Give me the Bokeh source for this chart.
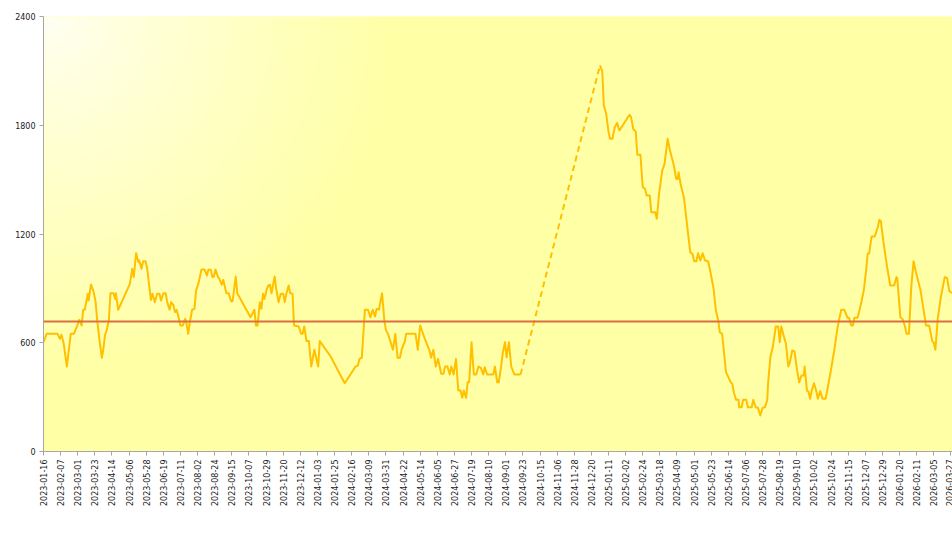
import numpy as np
import pandas as pd
from math import pi
from bokeh.plotting import figure
from bokeh.models import FixedTicker, DatetimeTickFormatter, Span, AllLabels, Range1d
from bokeh.embed import file_html
from bokeh.resources import INLINE

# ---------------- data ----------------
dates = [
    "2023-01-16", "2023-01-20", "2023-02-03", "2023-02-06", "2023-02-08", "2023-02-11", "2023-02-15",
    "2023-02-20", "2023-02-24", "2023-02-28", "2023-03-03", "2023-03-06", "2023-03-08", "2023-03-10",
    "2023-03-14", "2023-03-15", "2023-03-18", "2023-03-21", "2023-03-24", "2023-03-26", "2023-03-29",
    "2023-04-01", "2023-04-03", "2023-04-05", "2023-04-07", "2023-04-10", "2023-04-12", "2023-04-16",
    "2023-04-18", "2023-04-19", "2023-04-22", "2023-05-07", "2023-05-10", "2023-05-12", "2023-05-15",
    "2023-05-18", "2023-05-19", "2023-05-22", "2023-05-24", "2023-05-27", "2023-05-29", "2023-06-03",
    "2023-06-05", "2023-06-08", "2023-06-11", "2023-06-14", "2023-06-16", "2023-06-19", "2023-06-22",
    "2023-06-24", "2023-06-27", "2023-06-29", "2023-07-02", "2023-07-04", "2023-07-06", "2023-07-08",
    "2023-07-11", "2023-07-14", "2023-07-17", "2023-07-18", "2023-07-21", "2023-07-23", "2023-07-26",
    "2023-07-29", "2023-07-31", "2023-08-03", "2023-08-07", "2023-08-11", "2023-08-14", "2023-08-16",
    "2023-08-19", "2023-08-21", "2023-08-23", "2023-08-25", "2023-08-28", "2023-08-30", "2023-09-02",
    "2023-09-04", "2023-09-08", "2023-09-11", "2023-09-14", "2023-09-16", "2023-09-20", "2023-09-22",
    "2023-10-09", "2023-10-14", "2023-10-16", "2023-10-18", "2023-10-21", "2023-10-23", "2023-10-25",
    "2023-10-27", "2023-10-30", "2023-11-01", "2023-11-03", "2023-11-05", "2023-11-09", "2023-11-11",
    "2023-11-14", "2023-11-17", "2023-11-20", "2023-11-22", "2023-11-24", "2023-11-27", "2023-11-29",
    "2023-12-02", "2023-12-04", "2023-12-10", "2023-12-13", "2023-12-15", "2023-12-17", "2023-12-20",
    "2023-12-23", "2023-12-26", "2023-12-30", "2024-01-04", "2024-01-06", "2024-01-20", "2024-02-07",
    "2024-02-15", "2024-02-21", "2024-02-24", "2024-02-26", "2024-02-29", "2024-03-04", "2024-03-08",
    "2024-03-11", "2024-03-14", "2024-03-17", "2024-03-19", "2024-03-22", "2024-03-26", "2024-03-29",
    "2024-03-31", "2024-04-03", "2024-04-06", "2024-04-09", "2024-04-12", "2024-04-15", "2024-04-18",
    "2024-04-20", "2024-04-23", "2024-04-24", "2024-04-26", "2024-05-08", "2024-05-11", "2024-05-14",
    "2024-05-20", "2024-05-26", "2024-05-28", "2024-05-31", "2024-06-03", "2024-06-06", "2024-06-10",
    "2024-06-13", "2024-06-15", "2024-06-18", "2024-06-21", "2024-06-23", "2024-06-26", "2024-06-29",
    "2024-07-02", "2024-07-05", "2024-07-07", "2024-07-09", "2024-07-12", "2024-07-14", "2024-07-16",
    "2024-07-19", "2024-07-22", "2024-07-25", "2024-07-28", "2024-07-31", "2024-08-03", "2024-08-05",
    "2024-08-08", "2024-08-16", "2024-08-18", "2024-08-21", "2024-08-23", "2024-08-26", "2024-08-28",
    "2024-08-31", "2024-09-02", "2024-09-05", "2024-09-08", "2024-09-12", "2024-09-20",
    "2024-12-31", "2025-01-03", "2025-01-05", "2025-01-08", "2025-01-11", "2025-01-13", "2025-01-16",
    "2025-01-19", "2025-01-22", "2025-01-25", "2025-02-07", "2025-02-09", "2025-02-12", "2025-02-15",
    "2025-02-17", "2025-02-21", "2025-02-24", "2025-02-27", "2025-03-01", "2025-03-05", "2025-03-07",
    "2025-03-12", "2025-03-14", "2025-03-17", "2025-03-21", "2025-03-24", "2025-03-28", "2025-03-31",
    "2025-04-05", "2025-04-08", "2025-04-10", "2025-04-11", "2025-04-14", "2025-04-17", "2025-04-18",
    "2025-04-23", "2025-04-26", "2025-04-29", "2025-05-01", "2025-05-04", "2025-05-06", "2025-05-09",
    "2025-05-12", "2025-05-15", "2025-05-19", "2025-05-22", "2025-05-26", "2025-05-29", "2025-06-01",
    "2025-06-03", "2025-06-06", "2025-06-09", "2025-06-11", "2025-06-14", "2025-06-17", "2025-06-19",
    "2025-06-21", "2025-06-24", "2025-06-27", "2025-06-28", "2025-07-01", "2025-07-03", "2025-07-07",
    "2025-07-09", "2025-07-14", "2025-07-16", "2025-07-19", "2025-07-22", "2025-07-25", "2025-07-28",
    "2025-07-31", "2025-08-03", "2025-08-04", "2025-08-07", "2025-08-10", "2025-08-14", "2025-08-17",
    "2025-08-19", "2025-08-21", "2025-08-24", "2025-08-27", "2025-08-30", "2025-09-01", "2025-09-04",
    "2025-09-07", "2025-09-10", "2025-09-13", "2025-09-16", "2025-09-19", "2025-09-20", "2025-09-23",
    "2025-09-25", "2025-09-27", "2025-09-29", "2025-10-02", "2025-10-05", "2025-10-07", "2025-10-10",
    "2025-10-13", "2025-10-17", "2025-10-23", "2025-10-28", "2025-11-01", "2025-11-06", "2025-11-10",
    "2025-11-14", "2025-11-16", "2025-11-19", "2025-11-21", "2025-11-23", "2025-11-27", "2025-11-30",
    "2025-12-05", "2025-12-08", "2025-12-10", "2025-12-12", "2025-12-15", "2025-12-19", "2025-12-23",
    "2025-12-25", "2025-12-27", "2025-12-30", "2026-01-04", "2026-01-08", "2026-01-13", "2026-01-16",
    "2026-01-17", "2026-01-21", "2026-01-24", "2026-01-27", "2026-01-29", "2026-02-01", "2026-02-04",
    "2026-02-07", "2026-02-10", "2026-02-16", "2026-02-23", "2026-02-27", "2026-03-03", "2026-03-05",
    "2026-03-07", "2026-03-10", "2026-03-14", "2026-03-19", "2026-03-22", "2026-03-25", "2026-03-29",
]
values = [
    603, 649, 649, 622, 644, 594, 469,
    649, 649, 690, 727, 695, 782, 782,
    870, 833, 921, 888, 824, 723, 612,
    517, 567, 640, 668, 723, 873, 873,
    842, 873, 782, 925, 1008, 962, 1094,
    1044, 1054, 1008, 1050, 1050, 1017, 836,
    870, 824, 870, 870, 833, 873, 873,
    824, 782, 824, 806, 769, 782, 750,
    695, 695, 732, 723, 649, 713, 782,
    787, 888, 925, 1004, 1004, 971, 1004,
    1002, 962, 965, 1004, 965, 952, 920,
    947, 873, 873, 829, 829, 965, 873,
    741, 782, 695, 695, 824, 787, 870,
    842, 898, 916, 920, 873, 965, 898,
    824, 870, 870, 824, 870, 916, 873,
    870, 695, 690, 649, 649, 690, 609,
    609, 469, 561, 469, 609, 524, 377,
    429, 469, 474, 511, 517, 782, 782,
    741, 782, 745, 787, 782, 873, 723,
    671, 645, 603, 561, 649, 517, 517,
    561, 594, 603, 649, 649, 561, 695,
    622, 557, 517, 561, 469, 511, 429,
    429, 469, 469, 425, 469, 425, 511,
    336, 336, 296, 336, 296, 382, 382,
    603, 425, 425, 469, 461, 425, 465,
    425, 425, 469, 382, 382, 469, 539,
    603, 520, 603, 469, 425, 425,
    2130, 2097, 1909, 1863, 1765, 1725, 1725,
    1789, 1813, 1771, 1858, 1845, 1776, 1765,
    1637, 1637, 1458, 1449, 1412, 1412, 1320,
    1320, 1284, 1422, 1550, 1587, 1725, 1661,
    1578, 1504, 1504, 1541, 1467, 1416, 1400,
    1210, 1100, 1090, 1050, 1050, 1094, 1054,
    1094, 1054, 1050, 989, 898, 778, 723,
    658, 649, 520, 438, 410, 382, 373,
    327, 285, 285, 244, 244, 285, 285,
    244, 244, 285, 244, 241, 199, 241,
    244, 285, 373, 520, 575, 690, 690,
    603, 690, 640, 594, 469, 490, 557,
    552, 456, 382, 419, 419, 469, 336,
    330, 291, 333, 377, 333, 291, 333,
    291, 291, 429, 557, 677, 782, 782,
    738, 738, 695, 695, 738, 738, 787,
    888, 999, 1091, 1094, 1186, 1186, 1237,
    1278, 1270, 1164, 1017, 916, 916, 962,
    958, 741, 730, 690, 649, 649, 907,
    1050, 989, 888, 695, 695, 609, 600,
    561, 732, 851, 962, 958, 884, 873,
]
threshold = 717
y_ticks = [0, 600, 1200, 1800, 2400]
x_first_tick = "2023-01-16"
x_tick_step_days = 22
x_end = "2026-03-29"

# ---------------- layout / style ----------------
W, H = 952, 535
BL, BT, BB, BR = 43, 16, 84, 0
LINE_COLOR = "#FFC000"
REF_COLOR = "#DD6E42"
AXIS_COLOR = "#A6A6A6"
FONT = "DejaVu Sans"

dt = pd.to_datetime(dates)
vals = np.array(values, dtype=float)

x0 = pd.Timestamp(x_first_tick)
x1 = pd.Timestamp(x_end)
x0_ms = x0.value / 1e6
x1_ms = x1.value / 1e6

p = figure(width=W, height=H, x_axis_type="datetime", output_backend="svg",
           toolbar_location=None, min_border_left=BL, min_border_top=BT,
           min_border_bottom=BB, min_border_right=BR,
           x_range=Range1d(x0_ms, x1_ms), y_range=Range1d(0, 2400))
p.outline_line_color = None
p.background_fill_color = "#FFFFA8"
p.border_fill_color = "white"
p.xgrid.visible = False
p.ygrid.visible = False

# background gradient (white top-left -> light yellow)
fw, fh = W - BL - BR, H - BT - BB
gw, gh = fw // 2, fh // 2
img = np.empty((gh, gw), dtype=np.uint32)
view = img.view(dtype=np.uint8).reshape((gh, gw, 4))
u = (np.arange(gw) + 0.5) * fw / gw
v_top = fh - (np.arange(gh) + 0.5) * fh / gh  # row 0 = bottom
U, V = np.meshgrid(u, v_top)
d = np.sqrt(U ** 2 + V ** 2)
t = np.clip(d / 360.0, 0, 1) ** 0.8
c0 = np.array([255, 255, 246])
c1 = np.array([255, 255, 166])
for k in range(3):
    view[:, :, k] = (c0[k] + (c1[k] - c0[k]) * t).astype(np.uint8)
view[:, :, 3] = 255
p.image_rgba(image=[img], x=x0_ms, y=0, dw=x1_ms - x0_ms, dh=2400)

# reference line
p.add_layout(Span(location=threshold, dimension="width", line_color=REF_COLOR, line_width=2))

# split series where data is missing (large gap) -> dashed connector
gaps = np.where(np.diff(dt.values).astype("timedelta64[D]").astype(int) > 30)[0]
starts = [0] + [g + 1 for g in gaps]
ends = [g + 1 for g in gaps] + [len(dt)]
for s, e in zip(starts, ends):
    p.line(dt[s:e], vals[s:e], line_color=LINE_COLOR, line_width=2, line_join="round")
for g in gaps:
    p.line(dt[g:g + 2], vals[g:g + 2], line_color=LINE_COLOR, line_width=2, line_dash="6 4")

# axes
tick_dates = pd.date_range(x0, x1, freq=f"{x_tick_step_days}D")
p.xaxis.ticker = FixedTicker(ticks=[t_.value / 1e6 for t_ in tick_dates])
fmt = "%Y-%m-%d"
p.xaxis.formatter = DatetimeTickFormatter(days=fmt, months=fmt, years=fmt, hours=fmt,
                                          hourmin=fmt, minutes=fmt, minsec=fmt,
                                          seconds=fmt, milliseconds=fmt,
                                          microseconds=fmt, context=None)
p.xaxis.major_label_orientation = pi / 2
p.xaxis.major_label_policy = AllLabels()
p.yaxis.ticker = FixedTicker(ticks=y_ticks)

for ax in (p.xaxis[0], p.yaxis[0]):
    ax.axis_line_color = AXIS_COLOR
    ax.major_tick_line_color = AXIS_COLOR
    ax.minor_tick_line_color = None
    ax.major_tick_in = 0
    ax.major_tick_out = 4
    ax.major_label_standoff = 4
    ax.major_label_text_font = FONT
    ax.major_label_text_font_size = "8px"
    ax.major_label_text_color = "#1A1A1A"

open("out.html", "w").write(file_html(p, INLINE))
